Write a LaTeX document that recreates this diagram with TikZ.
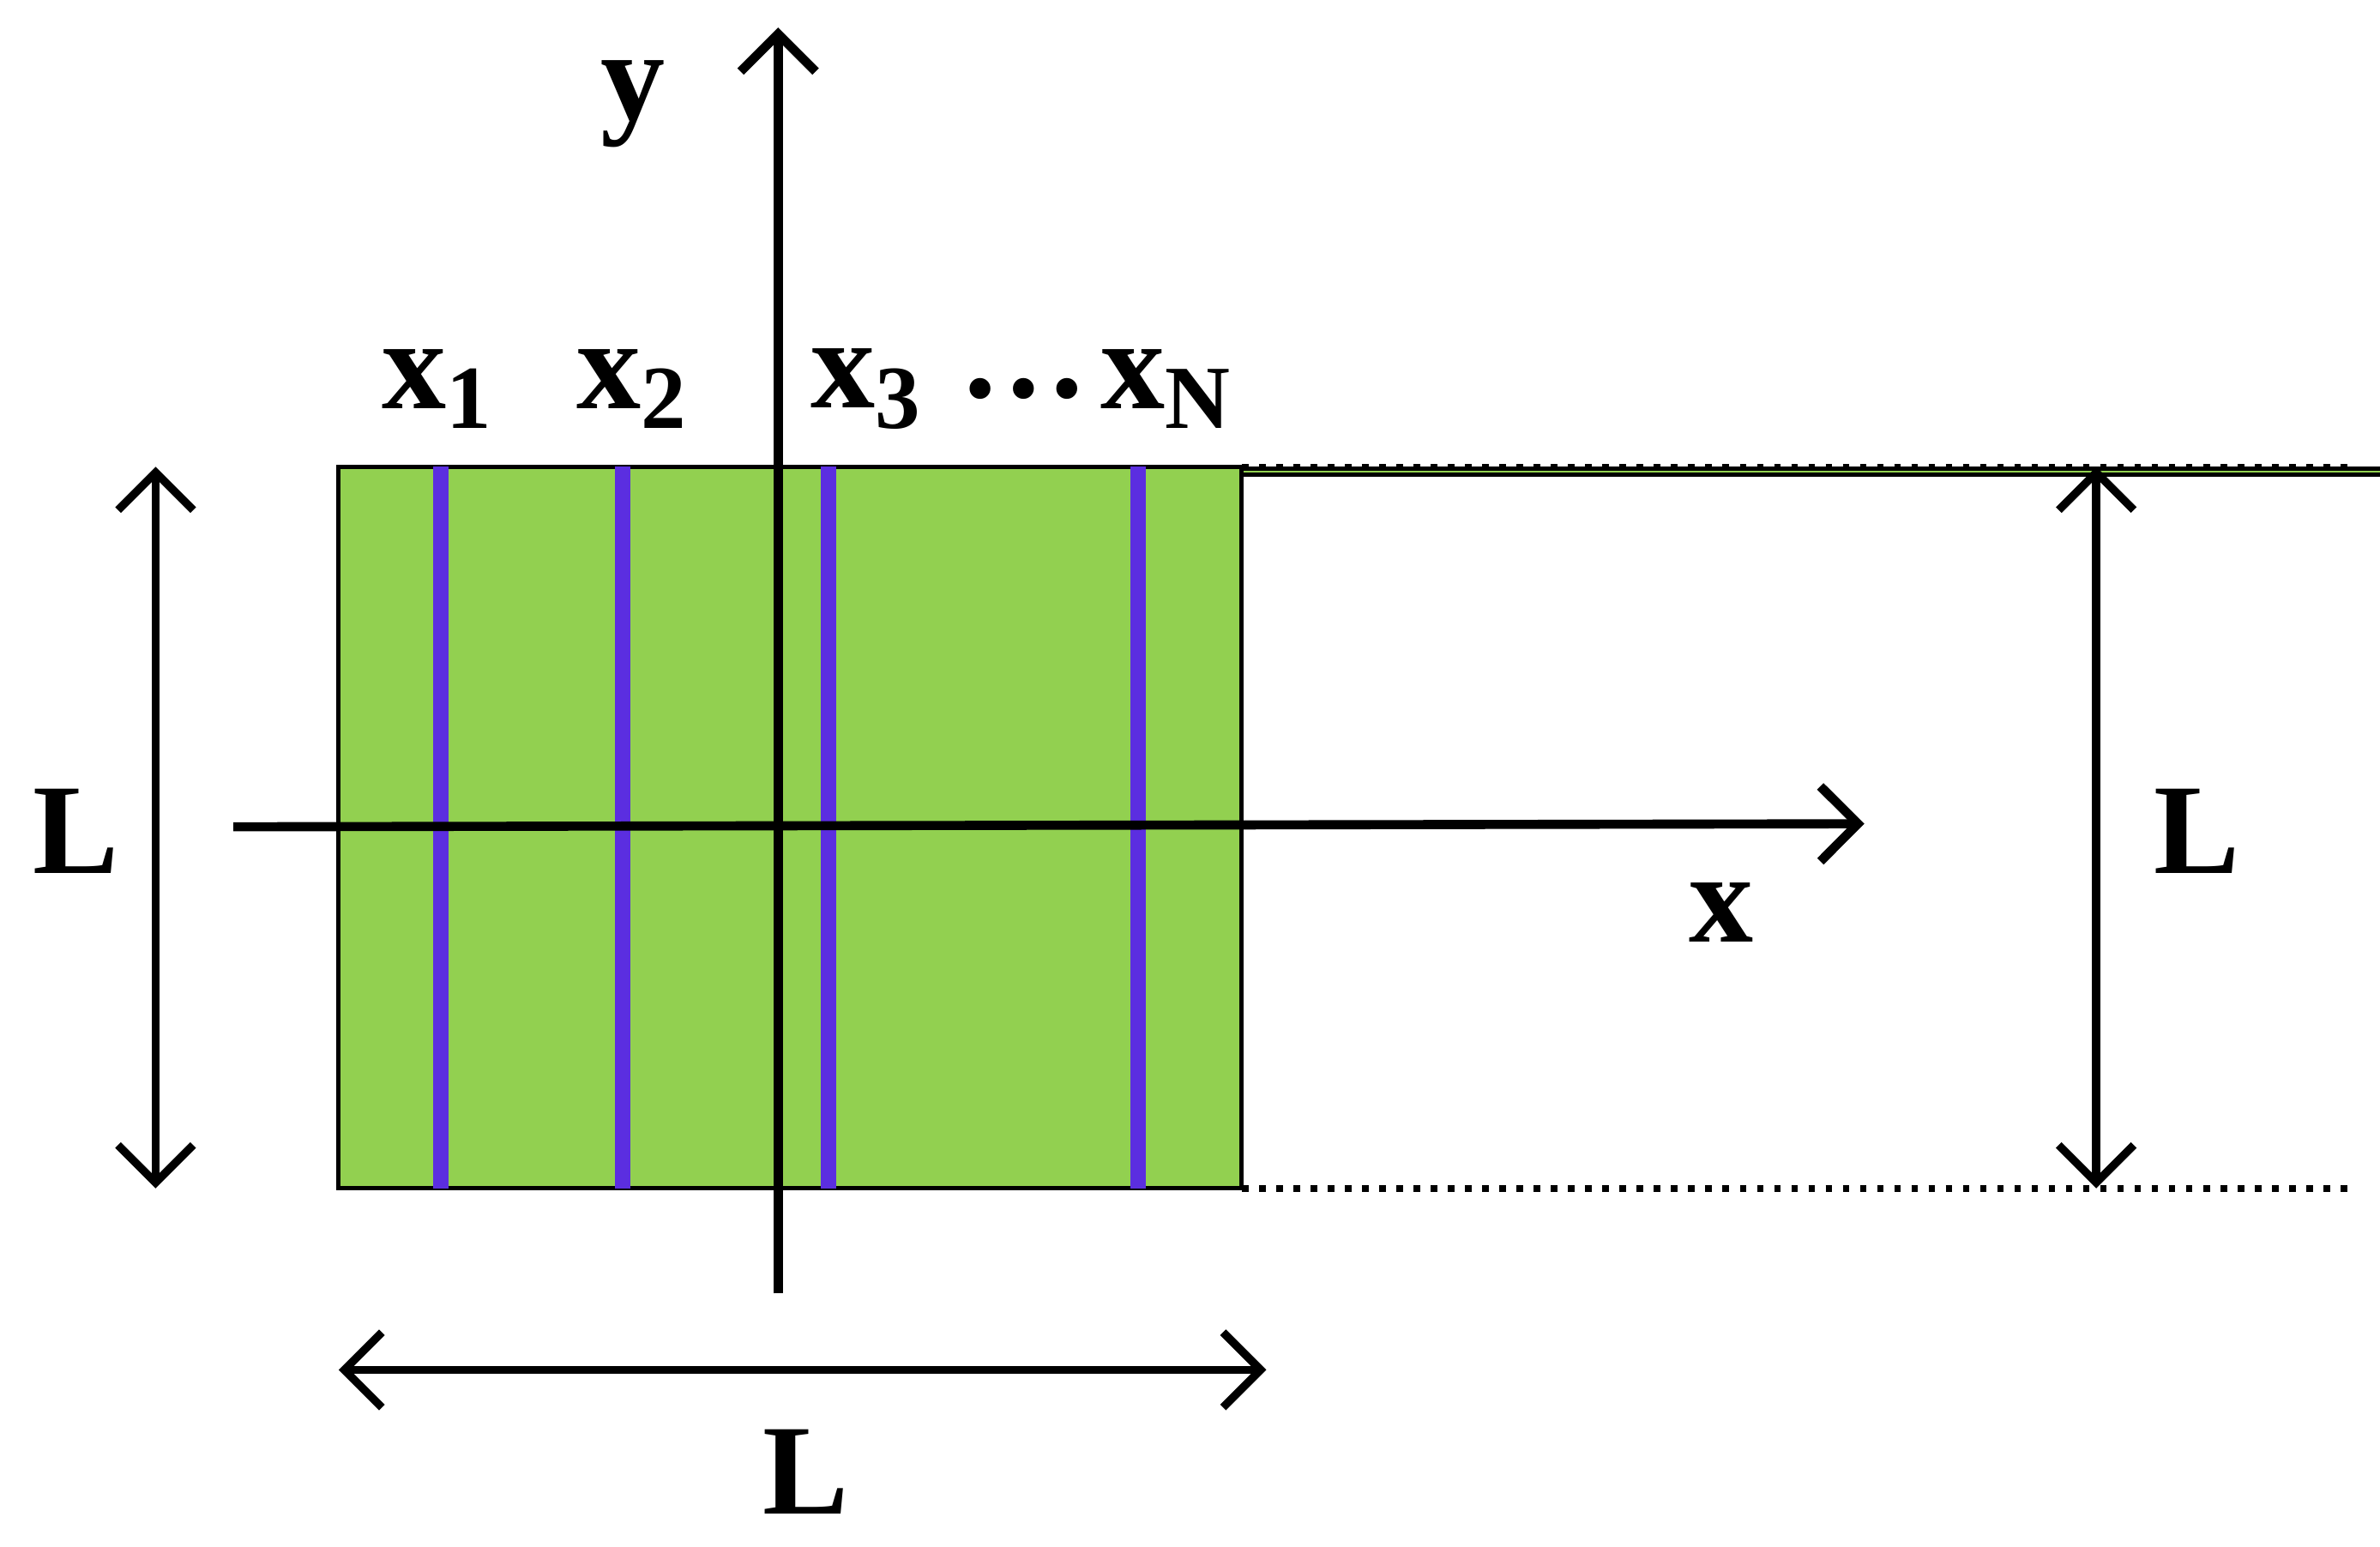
\documentclass[tikz,border=0pt]{standalone}
\usepackage{fontspec}
\setmainfont{Liberation Serif}
\usetikzlibrary{arrows.meta}
\definecolor{grn}{HTML}{92D050}
\definecolor{blu}{HTML}{5B2EE0}
\tikzset{
 axis/.style={line width=1.7pt,-{Straight Barb[length=7pt,width=14pt,line width=1.7pt]}},
 dim/.style={line width=1.5pt,{Straight Barb[length=7pt,width=14pt,line width=1.5pt]}-{Straight Barb[length=7pt,width=14pt,line width=1.5pt]}},
 lbl/.style={font=\fontsize{24}{28}\selectfont\bfseries,inner sep=0pt},
 strip/.style={blu,line width=2.8pt}
}
\begin{document}
\begin{tikzpicture}[x=0.01cm,y=-0.01cm]
\useasboundingbox (0,0) rectangle (1560,1014);
\node[draw=black,line width=0.8pt,fill=grn,minimum width=592\pgflinewidth,inner sep=0pt,anchor=north west] (sq) at (222,306) {};
\fill[grn,draw=black,line width=0.8pt] (222,306) rectangle (814,779);
\coordinate (tl) at (222,306); \coordinate (br) at (814,779);
\foreach \x/\n in {289/1,408/2,543/3,746/4}{
 \coordinate (s\n t) at (\x,306); \coordinate (s\n b) at (\x,779);
 \draw[strip] (s\n t) -- (s\n b);}
\coordinate (ya) at (510,848); \coordinate (yb) at (510,18);
\draw[axis] (ya) -- (yb);
\coordinate (xa) at (153,542); \coordinate (xb) at (1222,540);
\draw[axis] (xa) -- (xb);
\node[lbl] (ylab) at (415,68) {y};
\node[lbl] (xlab) at (1128,598) {x};
\node[lbl] (x1) at (287,255) {x\textsubscript{1}};
\node[lbl] (x2) at (415,255) {x\textsubscript{2}};
\node[lbl] (x3) at (568,255) {x\textsubscript{3}};
\node[lbl] (dots) at (671,255) {\dots};
\node[lbl] (xN) at (765,255) {x\textsubscript{N}};
\coordinate (la) at (102,306); \coordinate (lb) at (102,779);
\draw[dim] (la) -- (lb);
\node[lbl] (Ll) at (50,545) {L};
\coordinate (ra) at (1374,306); \coordinate (rb) at (1374,779);
\draw[dim] (ra) -- (rb);
\node[lbl] (Lr) at (1440,545) {L};
\coordinate (d1) at (814,306); \coordinate (d2) at (1545,306);
\coordinate (d3) at (814,779); \coordinate (d4) at (1545,779);
\draw[dotted,line width=1.2pt] (d1) -- (d2);
\draw[dotted,line width=1.2pt] (d3) -- (d4);
\coordinate (ba) at (222,898); \coordinate (bb) at (830,898);
\draw[dim] (ba) -- (bb);
\node[lbl] (Lb) at (528,965) {L};
\end{tikzpicture}
\end{document}
